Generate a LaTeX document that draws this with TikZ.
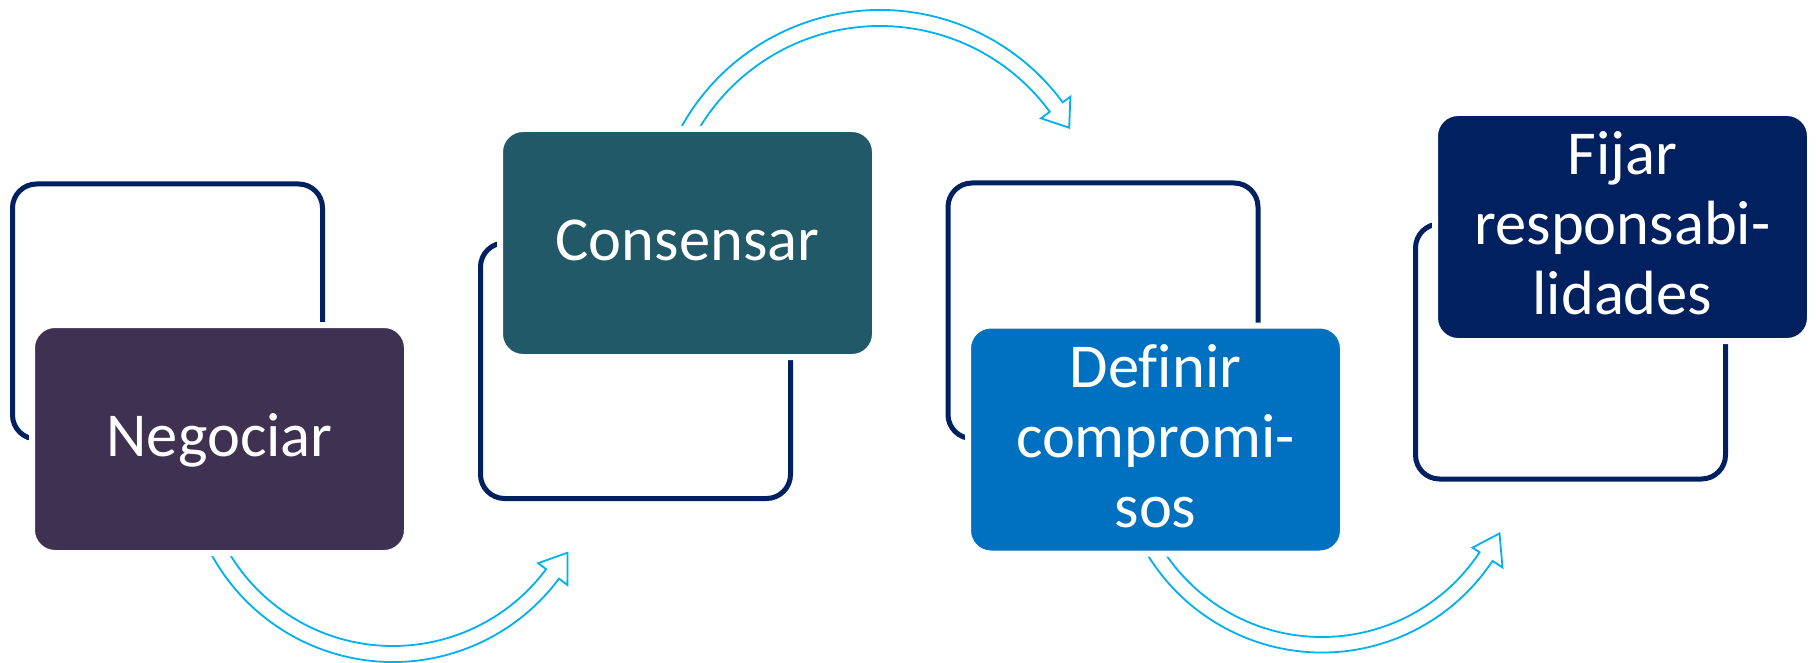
\documentclass[tikz,border=0pt]{standalone}
\usepackage{fontspec}
\setmainfont{Carlito}[Ligatures=NoCommon]
\usetikzlibrary{calc}
\definecolor{cpurple}{HTML}{3F3151}
\definecolor{cteal}{HTML}{215968}
\definecolor{cblue}{HTML}{0070C0}
\definecolor{cnavy}{HTML}{002060}
\definecolor{carrow}{HTML}{00B0F0}
\begin{document}
\begin{tikzpicture}[x=1pt,y=-1pt,
  frame/.style={draw=cnavy, line width=5pt, rounded corners=24pt},
  arr/.style={draw=carrow, line width=1.8pt, line join=miter},
  box/.style={draw=white, line width=6pt, rounded corners=23pt,
    minimum width=375pt, minimum height=228pt, inner sep=0pt},
  lbl/.style={text=white, inner sep=0pt, font=\fontsize{62.5}{70}\selectfont, anchor=base}]
\useasboundingbox (0,0) rectangle (1816,663);
% outline frames
\draw[frame] (12.5,184) rectangle (322.5,439);
\draw[frame] (480.5,243) rectangle (790.5,498.5);
\draw[frame] (948,183) rectangle (1258,438.5);
\draw[frame] (1415.5,224) rectangle (1725.5,479);
% arrows
\coordinate (a1) at (393,455);
\coordinate (a2) at (880,237);
\coordinate (a3) at (1322,448);
\draw[arr] ([shift={(160:207)}]a1) arc[start angle=160,end angle=36.7,radius=207]
  -- ([shift={(36.7:217.5)}]a1) -- ([shift={(29.25:200)}]a1) -- ([shift={(36.7:181)}]a1)
  -- ([shift={(36.7:191)}]a1) arc[start angle=36.7,end angle=160,radius=191];
\draw[arr] ([shift={(200:227)}]a2) arc[start angle=200,end angle=323.6,radius=227]
  -- ([shift={(323.6:236.5)}]a2) -- ([shift={(330:218.5)}]a2) -- ([shift={(323.6:200)}]a2)
  -- ([shift={(323.6:211)}]a2) arc[start angle=323.6,end angle=200,radius=211];
\draw[arr] ([shift={(160:204.5)}]a3) arc[start angle=160,end angle=33.5,radius=204.5]
  -- ([shift={(33.5:216.5)}]a3) -- ([shift={(25.7:197)}]a3) -- ([shift={(33.5:180.5)}]a3)
  -- ([shift={(33.5:189)}]a3) arc[start angle=33.5,end angle=160,radius=189];
% boxes
\node[box, fill=cpurple] (n1) at (219.5,439) {};
\node[box, fill=cteal] (n2) at (687.5,243) {};
\node[box, fill=cblue] (n3) at (1155.5,439.5) {};
\node[box, fill=cnavy] (n4) at (1622.5,227) {};
% labels
\node[lbl] (t1) at ($(n1.center)+(0,17.5)$) {Negociar};
\node[lbl] (t2) at ($(n2.center)+(0,17.5)$) {Consensar};
\node[lbl] (t3) at ($(n3.center)+(0,87.5)$) {\begin{tabular}[b]{@{}c@{}}Definir\\compromi-\\sos\end{tabular}};
\node[lbl] (t4) at ($(n4.center)+(0,87.5)$) {\begin{tabular}[b]{@{}c@{}}Fijar\\responsabi-\\lidades\end{tabular}};
\end{tikzpicture}
\end{document}
